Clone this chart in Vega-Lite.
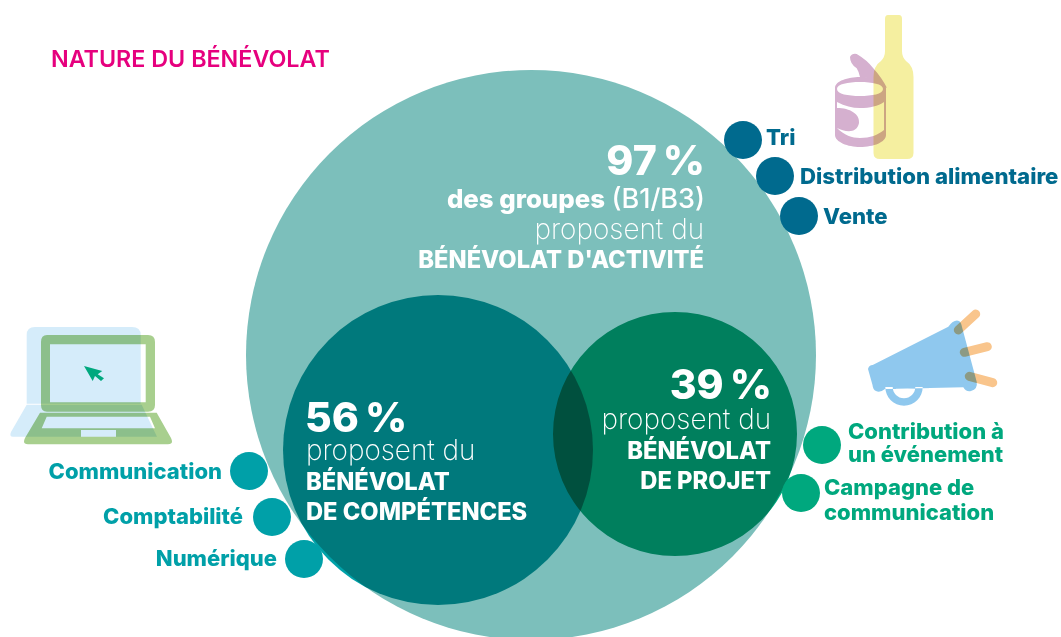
{"$schema":"https://vega.github.io/schema/vega-lite/v6.json","width":1061,"height":637,"autosize":"none","padding":0,"background":"white","config":{"view":{"stroke":null},"text":{"baseline":"alphabetic"}},
"datasets":{
"sets":[{"name":"activite","pct":97,"x":531,"y":355,"d":570},{"name":"competences","pct":56,"x":438,"y":450,"d":310},{"name":"projet","pct":39,"x":675,"y":434,"d":244}],
"dots":[{"g":"a","x":743,"y":140},{"g":"a","x":775,"y":176},{"g":"a","x":799,"y":216},{"g":"c","x":249,"y":471},{"g":"c","x":272,"y":517},{"g":"c","x":304,"y":559},{"g":"p","x":822,"y":445},{"g":"p","x":801,"y":493}],
"texts":[
{"s":"title","t":"NATURE DU BÉNÉVOLAT","x":51,"y":67},
{"s":"numR","t":"97\u2009%","x":705,"y":175},{"s":"numR","t":"39\u2009%","x":772,"y":399},{"s":"numL","t":"56\u2009%","x":305,"y":432},
{"s":"grp","t":"des groupes","x":605,"y":208},{"s":"medR","t":"(B1/B3)","x":705,"y":208},
{"s":"lightR","t":"proposent du","x":704,"y":239},{"s":"lightR","t":"proposent du","x":771,"y":429},{"s":"lightL","t":"proposent du","x":306,"y":460},
{"s":"boldR","t":"BÉNÉVOLAT D'ACTIVITÉ","x":704,"y":268},{"s":"boldR","t":"BÉNÉVOLAT","x":771,"y":459},{"s":"boldR","t":"DE PROJET","x":771,"y":489},
{"s":"boldL","t":"BÉNÉVOLAT","x":306,"y":490},{"s":"boldL","t":"DE COMPÉTENCES","x":306,"y":520},
{"s":"labA","t":"Tri","x":766,"y":145},{"s":"labA","t":"Distribution alimentaire","x":800,"y":184},{"s":"labA","t":"Vente","x":823,"y":224},
{"s":"labC","t":"Communication","x":222,"y":479},{"s":"labC","t":"Comptabilité","x":243,"y":524},{"s":"labC","t":"Numérique","x":277,"y":566},
{"s":"labP","t":"Contribution à","x":848,"y":439},{"s":"labP","t":"un événement","x":848,"y":462},{"s":"labP","t":"Campagne de","x":824,"y":495},{"s":"labP","t":"communication","x":824,"y":520}],
"anchors":[{"i":"bottle","x":893,"y":87},{"i":"can","x":860,"y":110},{"i":"laptop","x":82,"y":385},{"i":"mega","x":930,"y":365}],
"sticks":[{"x":958.3,"y":330,"x2":975.7,"y2":314},{"x":964.3,"y":352.3,"x2":987.3,"y2":346.7},{"x":969.3,"y":376.3,"x2":992.7,"y2":382.7}]
},
"encoding":{"x":{"field":"x","type":"quantitative","axis":null,"scale":{"domain":[0,1061],"nice":false,"zero":false}},"y":{"field":"y","type":"quantitative","axis":null,"scale":{"domain":[0,637],"reverse":true,"nice":false,"zero":false}}},
"layer":[
{"data":{"name":"sets"},"transform":[{"filter":"datum.pct==97"}],"mark":{"type":"point","filled":true,"shape":"circle","opacity":1,"strokeWidth":0,"color":"#7cbfbb"},"encoding":{"size":{"field":"d","type":"quantitative","scale":{"type":"pow","exponent":2,"domain":[0,1000],"range":[0,1000000]},"legend":null}}},
{"data":{"name":"sets"},"transform":[{"filter":"datum.pct==56"}],"mark":{"type":"point","filled":true,"shape":"circle","opacity":1,"strokeWidth":0,"color":"#00a2a9","blend":"multiply"},"encoding":{"size":{"field":"d","type":"quantitative","scale":{"type":"pow","exponent":2,"domain":[0,1000],"range":[0,1000000]},"legend":null}}},
{"data":{"name":"sets"},"transform":[{"filter":"datum.pct==39"}],"mark":{"type":"point","filled":true,"shape":"circle","opacity":1,"strokeWidth":0,"color":"#00a97f","blend":"multiply"},"encoding":{"size":{"field":"d","type":"quantitative","scale":{"type":"pow","exponent":2,"domain":[0,1000],"range":[0,1000000]},"legend":null}}},
{"data":{"name":"dots"},"transform":[{"filter":"datum.g=='a'"}],"mark":{"type":"point","filled":true,"shape":"circle","opacity":1,"strokeWidth":0,"size":1440,"color":"#006a8e"}},
{"data":{"name":"dots"},"transform":[{"filter":"datum.g=='c'"}],"mark":{"type":"point","filled":true,"shape":"circle","opacity":1,"strokeWidth":0,"size":1440,"color":"#00a0a8"}},
{"data":{"name":"dots"},"transform":[{"filter":"datum.g=='p'"}],"mark":{"type":"point","filled":true,"shape":"circle","opacity":1,"strokeWidth":0,"size":1440,"color":"#00a87e"}},
{"data":{"name":"anchors"},"transform":[{"filter":"datum.i=='bottle'"}],"mark":{"type":"point","filled":true,"opacity":1,"strokeWidth":0,"size":4,"color":"#f5efa0","shape":"M-8,-68 Q-8,-72 -5,-72 H6 Q9,-72 9,-68 V-36 Q9,-30 13,-26 Q20.5,-21 20.5,-10 V66 Q20.5,72 14,72 H-13 Q-19.5,72 -19.5,66 V-10 Q-19.5,-21 -12,-26 Q-8,-30 -8,-36 Z"}},
{"data":{"name":"anchors"},"transform":[{"filter":"datum.i=='can'"}],"mark":{"type":"point","filled":true,"opacity":1,"strokeWidth":0,"size":4,"color":"#d5b0cf","blend":"multiply","shape":"M-25,-22 C-25,-29 -12,-33 0,-33 C14,-33 26,-29 26,-22 L26,25 C26,32 14,37 0,37 C-12,37 -25,32 -25,25 Z M-23,-21 C-23,-16 -12,-14 0,-14 C12,-14 23,-16 23,-21 C23,-26 12,-28 0,-28 C-12,-28 -23,-26 -23,-21 Z M-23,-8 L-23,-2 C-10,-2 0,4 -1,13 C-3,24 -15,22 -23,18 C-16,25 -8,28 0,28 C10,28 18,25 24,20 L24,-8 C18,-4 10,-2 0,-2 C-8,-2 -15,-4 -23,-8 Z M-10,-53 Q-8,-57 -3.3,-56 Q7,-50 13.3,-41.7 Q22,-32 27,-22 Q20,-27 11.7,-31.7 Q6,-33 0,-33 Q-1,-38 -3.3,-41.7 Q-10,-46 -10,-53 Z"}},
{"data":{"name":"anchors"},"transform":[{"filter":"datum.i=='laptop'"}],"mark":{"type":"point","filled":true,"opacity":1,"strokeWidth":0,"size":4,"color":"#d5ecfa","shape":"M-47,-58 H50 Q58.7,-58 58.7,-50 V18.7 H-55.3 V-50 Q-55.3,-58 -47,-58 Z M-55.3,19.7 H59.7 L75,51.7 H-69 Q-73,51.7 -71,47 Z"}},
{"data":{"name":"anchors"},"transform":[{"filter":"datum.i=='laptop'"}],"mark":{"type":"point","filled":true,"opacity":1,"strokeWidth":0,"size":4,"color":"#a8cf8e","blend":"multiply","shape":"M-35,-50 H66 Q73,-50 73,-43 V20 Q73,26.7 66,26.7 H-35 Q-41,26.7 -41,20 V-43 Q-41,-50 -35,-50 Z M-32,-40.7 V17.3 H63.7 V-40.7 Z M-42,27.7 H74.7 L89,53 Q92,59.3 86,59.3 H-54 Q-60,59.3 -57,53 Z M-35.3,31.7 L-40.3,43.3 H73 L68,31.7 Z M-1,45 V51.7 H34 V45 Z"}},
{"data":{"name":"anchors"},"transform":[{"filter":"datum.i=='laptop'"}],"mark":{"type":"point","filled":true,"opacity":1,"strokeWidth":0,"size":4,"color":"#00a87e","shape":"M2,-19 L20.3,-14 L15.7,-10.7 L22,-6.7 L19,-4 L13,-9 L10.7,-4 Z"}},
{"data":{"name":"anchors"},"transform":[{"filter":"datum.i=='mega'"}],"mark":{"type":"point","filled":true,"opacity":1,"strokeWidth":0,"size":4,"color":"#8fc8ee","shape":"M-62,4 Q-61,0 -57.3,0 L18.3,-38.3 Q24,-46 29,-44 Q31,-43 32,-38 L46.7,16.7 Q48,24 41,26 Q36,27 33.3,22.3 L-45,24 Q-50,28 -54,26 Q-57,25 -57.5,20 Z M-44.7,22 A18.7,18.7 0 0 0 -7.3,22 L-14.7,22 A11.3,11.3 0 0 1 -37.3,22 Z"}},
{"data":{"name":"sticks"},"mark":{"type":"rule","color":"#f9c58c","strokeWidth":9,"strokeCap":"round","blend":"multiply"},"encoding":{"x2":{"field":"x2"},"y2":{"field":"y2"}}},
{"data":{"name":"texts"},"transform":[{"filter":"datum.s=='title'"}],"mark":{"type":"text","baseline":"alphabetic","align":"left","font":"Inter","fontWeight":600,"fontSize":23.3,"color":"#e6007e"},"encoding":{"text":{"field":"t"}}},
{"data":{"name":"texts"},"transform":[{"filter":"datum.s=='numR'"}],"mark":{"type":"text","baseline":"alphabetic","align":"right","font":"Inter","fontWeight":800,"fontSize":41,"color":"white"},"encoding":{"text":{"field":"t"}}},
{"data":{"name":"texts"},"transform":[{"filter":"datum.s=='numL'"}],"mark":{"type":"text","baseline":"alphabetic","align":"left","font":"Inter","fontWeight":800,"fontSize":41,"color":"white"},"encoding":{"text":{"field":"t"}}},
{"data":{"name":"texts"},"transform":[{"filter":"datum.s=='grp'"}],"mark":{"type":"text","baseline":"alphabetic","align":"right","font":"Inter","fontWeight":800,"fontSize":25.8,"color":"white"},"encoding":{"text":{"field":"t"}}},
{"data":{"name":"texts"},"transform":[{"filter":"datum.s=='boldR'"}],"mark":{"type":"text","baseline":"alphabetic","align":"right","font":"Inter","fontWeight":800,"fontSize":23.7,"color":"white"},"encoding":{"text":{"field":"t"}}},
{"data":{"name":"texts"},"transform":[{"filter":"datum.s=='boldL'"}],"mark":{"type":"text","baseline":"alphabetic","align":"left","font":"Inter","fontWeight":800,"fontSize":23.7,"color":"white"},"encoding":{"text":{"field":"t"}}},
{"data":{"name":"texts"},"transform":[{"filter":"datum.s=='medR'"}],"mark":{"type":"text","baseline":"alphabetic","align":"right","font":"Inter","fontWeight":500,"fontSize":27,"color":"white"},"encoding":{"text":{"field":"t"}}},
{"data":{"name":"texts"},"transform":[{"filter":"datum.s=='lightR'"}],"mark":{"type":"text","baseline":"alphabetic","align":"right","font":"Inter","fontWeight":200,"fontSize":27.9,"color":"white"},"encoding":{"text":{"field":"t"}}},
{"data":{"name":"texts"},"transform":[{"filter":"datum.s=='lightL'"}],"mark":{"type":"text","baseline":"alphabetic","align":"left","font":"Inter","fontWeight":200,"fontSize":27.9,"color":"white"},"encoding":{"text":{"field":"t"}}},
{"data":{"name":"texts"},"transform":[{"filter":"datum.s=='labA'"}],"mark":{"type":"text","baseline":"alphabetic","align":"left","font":"Inter","fontWeight":800,"fontSize":22.2,"color":"#006a8e"},"encoding":{"text":{"field":"t"}}},
{"data":{"name":"texts"},"transform":[{"filter":"datum.s=='labC'"}],"mark":{"type":"text","baseline":"alphabetic","align":"right","font":"Inter","fontWeight":800,"fontSize":22,"color":"#00a0a8"},"encoding":{"text":{"field":"t"}}},
{"data":{"name":"texts"},"transform":[{"filter":"datum.s=='labP'"}],"mark":{"type":"text","baseline":"alphabetic","align":"left","font":"Inter","fontWeight":800,"fontSize":22,"color":"#00a87e"},"encoding":{"text":{"field":"t"}}}
]}
